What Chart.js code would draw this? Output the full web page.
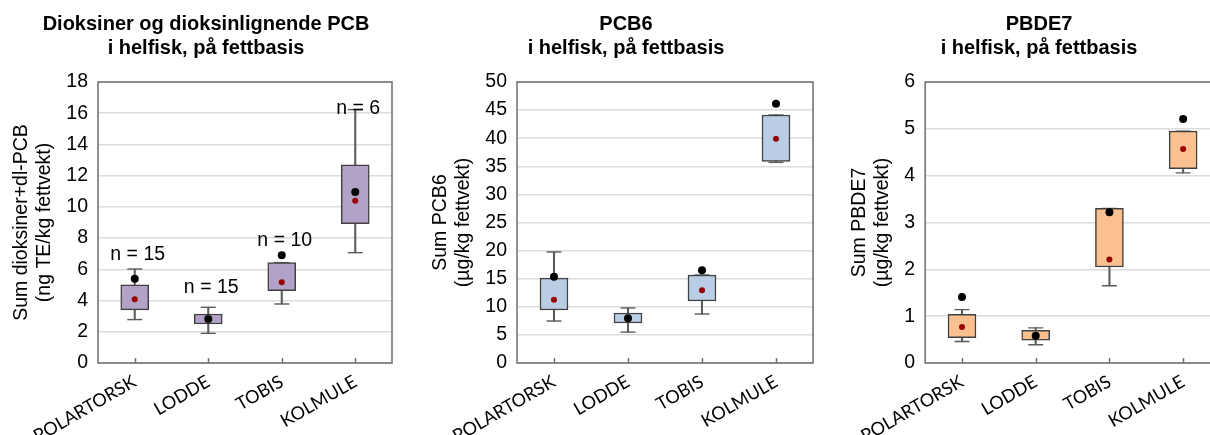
<!DOCTYPE html>
<html>
<head>
<meta charset="utf-8">
<script src="https://cdn.jsdelivr.net/npm/chart.js@4.4.0/dist/chart.umd.min.js"></script>
<style>
  html, body { margin: 0; padding: 0; background: #fff; overflow: hidden; width: 1210px; height: 435px; }
  .panel { position: absolute; top: 0; height: 470px; }
  #p1 { left: 0; width: 412px; }
  #p2 { left: 379px; width: 494px; }
  #p3 { left: 798px; width: 482px; }
</style>
</head>
<body>
<div class="panel" id="p1"><canvas id="c1"></canvas></div>
<div class="panel" id="p2"><canvas id="c2"></canvas></div>
<div class="panel" id="p3"><canvas id="c3"></canvas></div>
<script>
const categories = ['POLARTORSK', 'LODDE', 'TOBIS', 'KOLMULE'];

// Dioksiner og dl-PCB (ng TE/kg fettvekt)
const dioxMin = [2.78, 1.9, 3.78, 7.07];
const dioxQ1 = [3.4, 2.5, 4.63, 8.93];
const dioxQ3 = [5.0, 3.14, 6.43, 12.7];
const dioxMax = [6.02, 3.57, 6.43, 16.23];
const dioxMedian = [4.08, 2.8, 5.17, 10.4];
const dioxDot = [5.4, 2.82, 6.9, 10.95];
const dioxN = ['n = 15', 'n = 15', 'n = 10', 'n = 6'];
const dioxNAt = [6.96, 4.8, 7.82, 16.3];

// PCB6 (µg/kg fettvekt)
const pcbMin = [7.47, 5.5, 8.72, 35.7];
const pcbQ1 = [9.43, 7.12, 11.03, 35.88];
const pcbQ3 = [15.1, 8.9, 15.66, 44.13];
const pcbMax = [19.75, 9.79, 15.66, 44.13];
const pcbMedian = [11.27, 7.95, 12.93, 39.92];
const pcbDot = [15.36, 7.95, 16.49, 46.14];

// PBDE7 (µg/kg fettvekt)
const pbdeMin = [0.46, 0.39, 1.65, 4.06];
const pbdeQ1 = [0.54, 0.49, 2.05, 4.15];
const pbdeQ3 = [1.04, 0.70, 3.3, 4.95];
const pbdeMax = [1.14, 0.75, 3.3, 4.95];
const pbdeMedian = [0.77, 0.58, 2.21, 4.57];
const pbdeDot = [1.41, 0.58, 3.22, 5.21];

const FONT = "'Liberation Sans', Arial, sans-serif";
const XFONT = "Lato, 'Open Sans', sans-serif";

// frame round the plot area and short inward ticks on the x axis
const framePlugin = {
    id: 'frame',
    beforeDatasetsDraw(chart) {
        const {ctx, chartArea: a, scales: {x}} = chart;
        ctx.save();
        ctx.strokeStyle = '#6e6e6e';
        ctx.lineWidth = 1.5;
        ctx.strokeRect(a.left, a.top, a.right - a.left, a.bottom - a.top);
        ctx.beginPath();
        categories.forEach((c, i) => {
            const px = Math.round(x.getPixelForValue(i)) + 0.5;
            ctx.moveTo(px, a.bottom);
            ctx.lineTo(px, a.bottom - 5);
        });
        ctx.stroke();
        ctx.restore();
    }
};

// "n = .." labels above the boxes
const nLabelPlugin = {
    id: 'nlabels',
    afterDatasetsDraw(chart, args, opts) {
        if (!opts.labels) return;
        const {ctx, scales: {x, y}} = chart;
        ctx.save();
        ctx.font = '19.5px ' + FONT;
        ctx.fillStyle = '#000';
        ctx.textAlign = 'center';
        ctx.textBaseline = 'middle';
        opts.labels.forEach((t, i) => {
            ctx.fillText(t, x.getPixelForValue(i) + 3, y.getPixelForValue(opts.at[i]));
        });
        ctx.restore();
    }
};

function makeBoxChart(id, cfg) {
    const ctx = document.getElementById(id).getContext('2d');
    return new Chart(ctx, {
        data: {
            labels: categories,
            datasets: [
                {
                    type: 'bar',
                    data: cfg.min.map((v, i) => [v, cfg.max[i]]),
                    backgroundColor: '#5a5a5a',
                    barThickness: 1.4,
                    grouped: false,
                    order: 5
                },
                {
                    type: 'line',
                    data: cfg.min,
                    showLine: false,
                    pointStyle: 'line',
                    pointRadius: 7.5,
                    pointHoverRadius: 7.5,
                    pointBorderWidth: 1.4,
                    pointBorderColor: '#5a5a5a',
                    order: 4
                },
                {
                    type: 'line',
                    data: cfg.max,
                    showLine: false,
                    pointStyle: 'line',
                    pointRadius: 7.5,
                    pointHoverRadius: 7.5,
                    pointBorderWidth: 1.4,
                    pointBorderColor: '#5a5a5a',
                    order: 4
                },
                {
                    type: 'bar',
                    data: cfg.q1.map((v, i) => [v, cfg.q3[i]]),
                    backgroundColor: cfg.fill,
                    borderColor: '#404040',
                    borderWidth: 1.5,
                    borderSkipped: false,
                    barThickness: 28,
                    grouped: false,
                    order: 3
                },
                {
                    type: 'line',
                    data: cfg.median,
                    showLine: false,
                    pointRadius: 3,
                    pointHoverRadius: 3,
                    pointBorderWidth: 0,
                    pointBackgroundColor: '#990000',
                    order: 2
                },
                {
                    type: 'line',
                    data: cfg.dot,
                    showLine: false,
                    pointRadius: 4,
                    pointHoverRadius: 4,
                    pointBorderWidth: 0,
                    pointBackgroundColor: '#000000',
                    order: 1
                }
            ]
        },
        options: {
            responsive: true,
            maintainAspectRatio: false,
            animation: false,
            events: [],
            layout: { padding: { left: cfg.pad, right: cfg.pad, top: 0, bottom: 0 } },
            plugins: {
                legend: { display: false },
                tooltip: { enabled: false },
                title: {
                    display: true,
                    text: cfg.title,
                    color: '#000',
                    font: { family: FONT, size: 20, weight: 'bold', lineHeight: 1.2 },
                    padding: { top: 12, bottom: 22 }
                },
                nlabels: { labels: cfg.nLabels, at: cfg.nAt }
            },
            scales: {
                x: {
                    type: 'category',
                    offset: true,
                    grid: { display: false, drawTicks: false },
                    border: { display: false },
                    ticks: {
                        color: '#000',
                        font: { family: XFONT, size: 18 },
                        minRotation: 30,
                        maxRotation: 30,
                        autoSkip: false,
                        padding: 8
                    },
                    afterFit: s => { s.height = 107; s.paddingLeft = 0; s.paddingRight = 0; }
                },
                y: {
                    min: 0,
                    max: cfg.yMax,
                    grid: { color: '#dcdcdc', lineWidth: 1.5, drawTicks: false },
                    border: { display: false },
                    ticks: {
                        stepSize: cfg.step,
                        color: '#000',
                        font: { family: FONT, size: 19.5 },
                        padding: 10
                    },
                    title: {
                        display: true,
                        text: cfg.yTitle,
                        color: '#000',
                        font: { family: FONT, size: 19.5, lineHeight: 1.2 },
                        padding: { top: 9.5, bottom: 0 }
                    }
                },
                // empty strip on the right so the title stays centred on the whole panel
                gap: {
                    type: 'linear',
                    position: 'right',
                    grid: { display: false, drawTicks: false },
                    border: { display: false },
                    ticks: { display: false },
                    afterFit: s => { s.width = 20; }
                }
            }
        },
        plugins: [framePlugin, nLabelPlugin]
    });
}

makeBoxChart('c1', {
    title: ['Dioksiner og dioksinlignende PCB', 'i helfisk, på fettbasis'],
    yTitle: ['Sum dioksiner+dl-PCB', '(ng TE/kg fettvekt)'],
    yMax: 18, step: 2, pad: 0, fill: '#b3a2c7',
    min: dioxMin, q1: dioxQ1, q3: dioxQ3, max: dioxMax,
    median: dioxMedian, dot: dioxDot,
    nLabels: dioxN, nAt: dioxNAt
});

makeBoxChart('c2', {
    title: ['PCB6', 'i helfisk, på fettbasis'],
    yTitle: ['Sum PCB6', '(µg/kg fettvekt)'],
    yMax: 50, step: 5, pad: 40, fill: '#b9cde5',
    min: pcbMin, q1: pcbQ1, q3: pcbQ3, max: pcbMax,
    median: pcbMedian, dot: pcbDot
});

makeBoxChart('c3', {
    title: ['PBDE7', 'i helfisk, på fettbasis'],
    yTitle: ['Sum PBDE7', '(µg/kg fettvekt)'],
    yMax: 6, step: 1, pad: 40, fill: '#fac090',
    min: pbdeMin, q1: pbdeQ1, q3: pbdeQ3, max: pbdeMax,
    median: pbdeMedian, dot: pbdeDot
});
</script>
</body>
</html>
